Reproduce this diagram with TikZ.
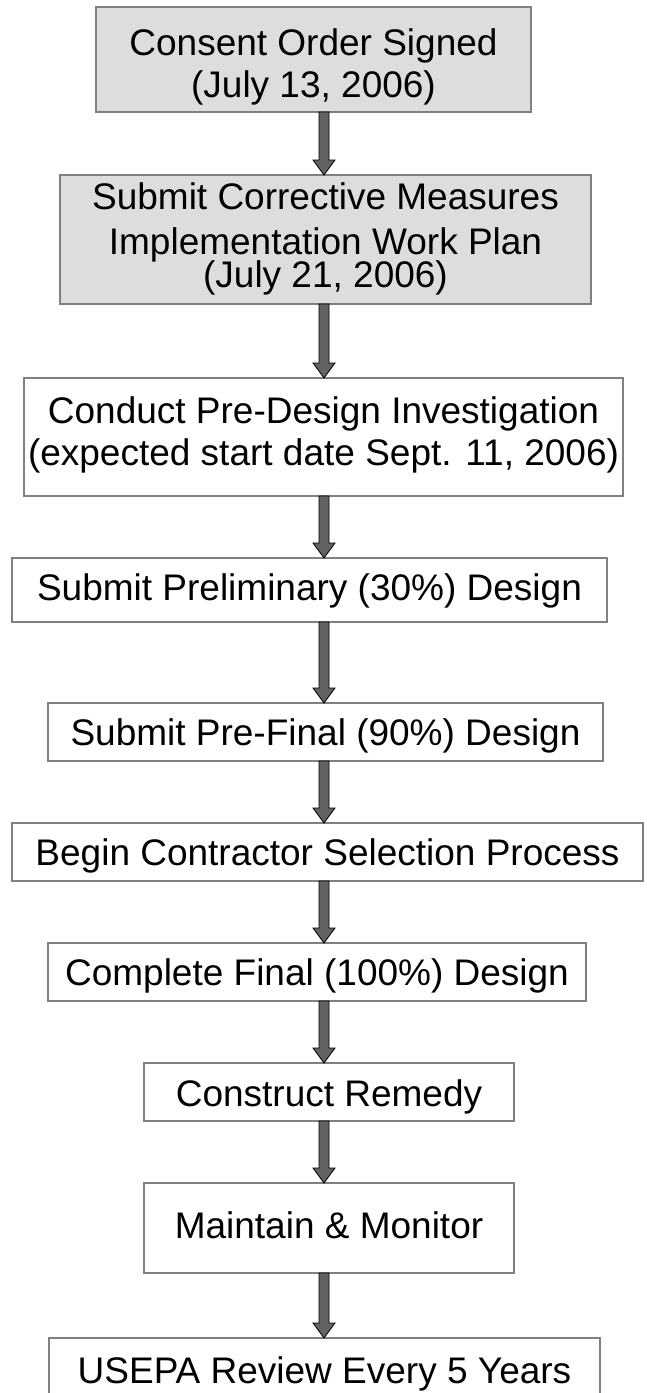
\documentclass[tikz,border=0pt]{standalone}
\usepackage{fontspec}
\setmainfont{Liberation Sans}
\usetikzlibrary{calc}
\definecolor{boxgray}{HTML}{DDDDDD}
\definecolor{edgegray}{HTML}{808080}
\definecolor{arrowgray}{HTML}{626262}
\newcommand\blockarrow[2]{%
  \draw[blockarr] let \p1=(#1.south -| ax), \p2=(#2.north -| ax) in
    (\x1-5pt,\y1) -- (\x1+5pt,\y1) -- (\x1+5pt,\y2+15pt) -- (\x1+11pt,\y2+15pt)
    -- (\x2,\y2) -- (\x1-11pt,\y2+15pt) -- (\x1-5pt,\y2+15pt) -- cycle;}
\begin{document}
\begin{tikzpicture}[x=1pt,y=-1pt,
  stepbox/.style={draw=edgegray, line width=1.5pt, fill=white, rectangle,
    inner sep=0pt, outer sep=0pt, align=center, text depth=0pt,
    font=\fontsize{37}{42}\selectfont},
  graybox/.style={stepbox, fill=boxgray},
  blockarr/.style={draw=black, fill=arrowgray, line width=0.8pt, line join=miter}]
\useasboundingbox (0,0) rectangle (647,1393);
\clip (0,0) rectangle (647,1393);
\coordinate (ax) at (324,0);
\node[graybox, minimum width=435pt, minimum height=105pt, text height=75pt] (b1) at (313.5,59.5)
  {Consent Order Signed\\(July 13, 2006)};
\node[graybox, minimum width=531pt, minimum height=129pt, text height=95pt,
  font=\fontsize{37}{45}\selectfont] (b2) at (325.5,239.5)
  {Submit Corrective Measures\\Implementation Work Plan\\[-12pt](July 21, 2006)};
\node[stepbox, minimum width=599pt, minimum height=118pt, text height=56pt] (b3) at (323.5,437)
  {Conduct Pre-Design Investigation\\(expected start date Sept. 11, 2006)};
\node[stepbox, minimum width=595pt, minimum height=64pt, text height=20pt] (b4) at (309.5,590)
  {Submit Preliminary (30\%) Design};
\node[stepbox, minimum width=555pt, minimum height=58pt, text height=26pt] (b5) at (325.5,732)
  {Submit Pre-Final (90\%) Design};
\node[stepbox, minimum width=631pt, minimum height=58pt, text height=26pt] (b6) at (327.5,852)
  {Begin Contractor Selection Process};
\node[stepbox, minimum width=538pt, minimum height=58pt, text height=26pt] (b7) at (317,972)
  {Complete Final (100\%) Design};
\node[stepbox, minimum width=370pt, minimum height=58pt, text height=28pt] (b8) at (329,1092)
  {Construct Remedy};
\node[stepbox, minimum width=370pt, minimum height=90pt, text height=20pt] (b9) at (329,1228)
  {Maintain \& Monitor};
\node[stepbox, minimum width=551pt, minimum height=82pt, text height=8pt] (b10) at (324.5,1379)
  {USEPA Review Every 5 Years};
\blockarrow{b1}{b2}
\blockarrow{b2}{b3}
\blockarrow{b3}{b4}
\blockarrow{b4}{b5}
\blockarrow{b5}{b6}
\blockarrow{b6}{b7}
\blockarrow{b7}{b8}
\blockarrow{b8}{b9}
\blockarrow{b9}{b10}
\end{tikzpicture}
\end{document}
